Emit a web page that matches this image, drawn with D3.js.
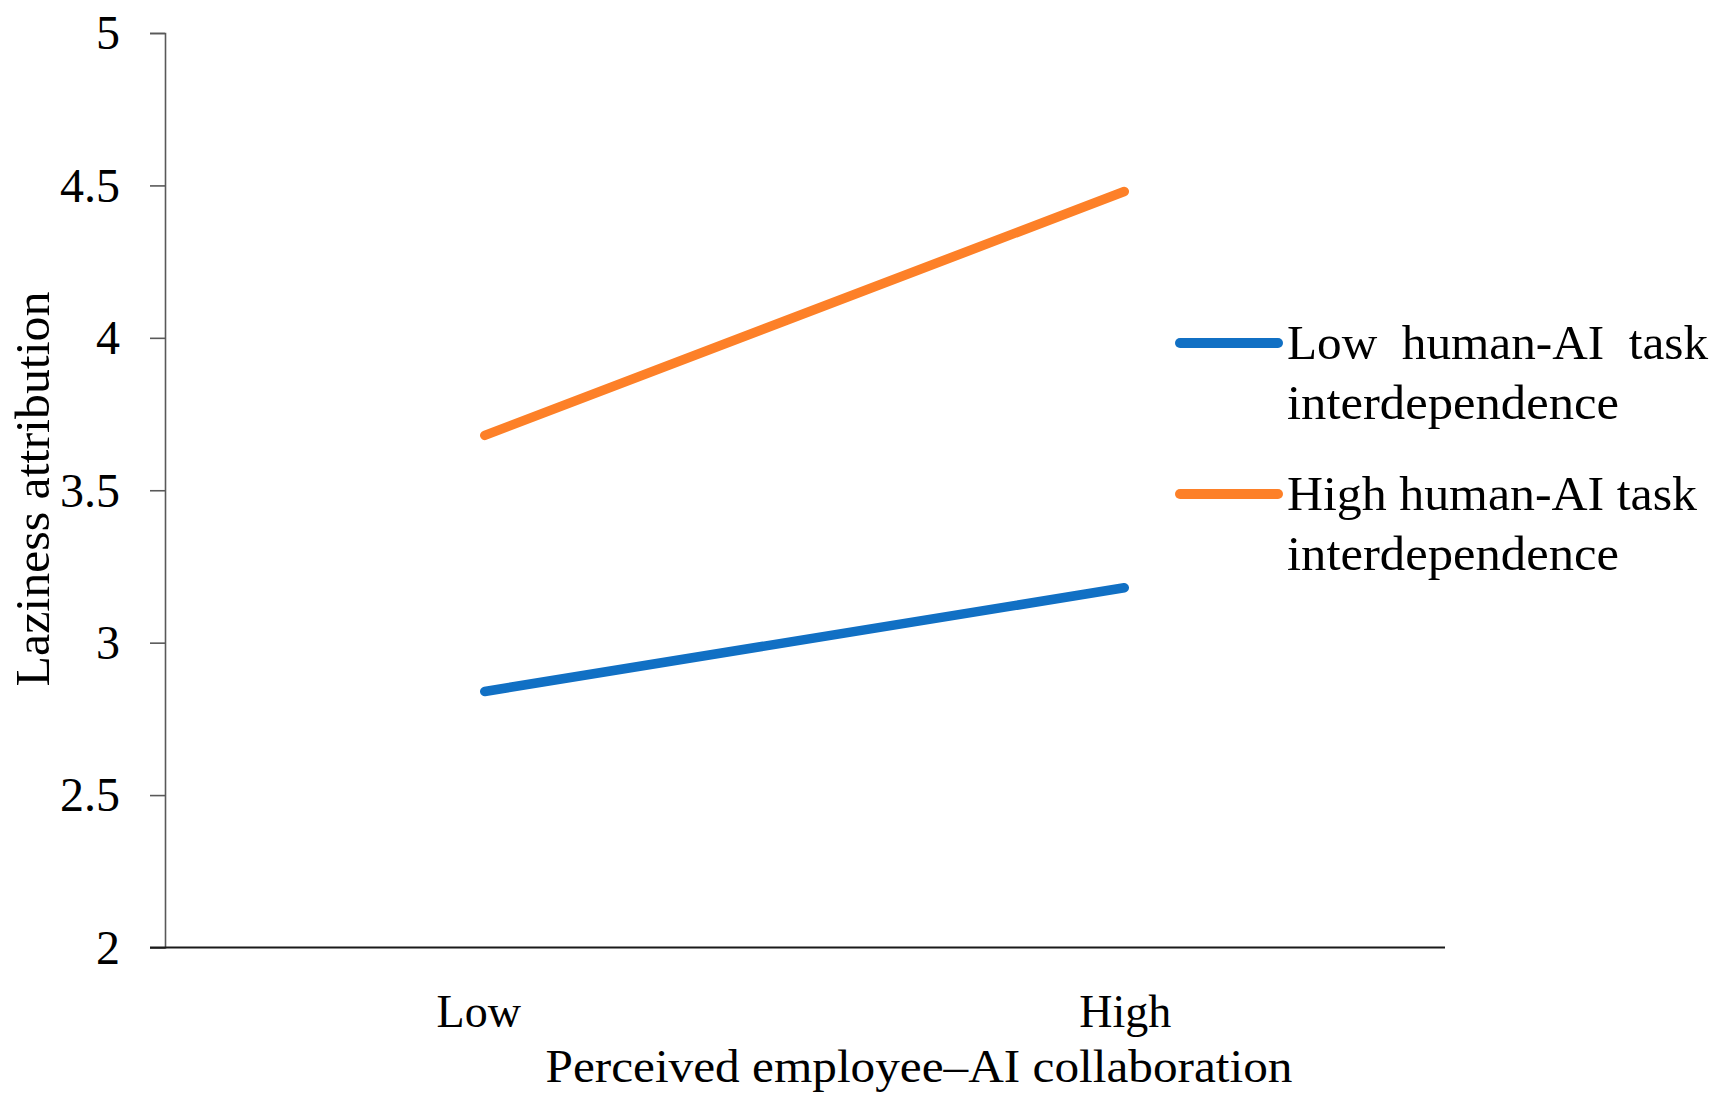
<!DOCTYPE html>
<html>
<head>
<meta charset="utf-8">
<script src="https://cdn.jsdelivr.net/npm/d3@7"></script>
<style>
  body { margin: 0; background: #ffffff; }
  text { font-family: 'Liberation Serif', 'DejaVu Serif', serif; fill: #000000; }
</style>
</head>
<body>
<div id="chart"></div>
<script>
const collaboration = ['Low', 'High']
const yTicks = [2, 2.5, 3, 3.5, 4, 4.5, 5]

const lowInterdependence = [2.84, 3.18]
const highInterdependence = [3.68, 4.48]

const seriesNames = [
  ['Low  human-AI  task', 'interdependence'],
  ['High human-AI task', 'interdependence'],
]
const seriesColors = ['#1170c4', '#fd8028']

const svgWidth = 1722
const svgHeight = 1105

const margin = { left: 165, right: 278, top: 33, bottom: 158 }

const svg = d3.select('#chart').append('svg').attr('width', svgWidth).attr('height', svgHeight)

svg.append('rect').attr('width', svgWidth).attr('height', svgHeight).attr('fill', '#ffffff')

const x = d3
  .scalePoint()
  .domain(collaboration)
  .range([margin.left, svgWidth - margin.right])
  .padding(0.5)

const y = d3
  .scaleLinear()
  .domain([2, 5])
  .range([svgHeight - margin.bottom + 0.5, margin.top])

// y axis
const yAxis = svg
  .append('g')
  .attr('transform', `translate(${margin.left}, 0)`)
  .call(d3.axisLeft(y).tickValues(yTicks).tickSize(15).tickPadding(30).tickFormat(d3.format('')))

yAxis.select('.domain').attr('stroke', '#595959').attr('stroke-width', 1.6)
yAxis.selectAll('.tick line').attr('stroke', '#595959').attr('stroke-width', 1.6)
yAxis
  .selectAll('.tick text')
  .attr('font-family', "'Liberation Serif', serif")
  .attr('font-size', 48)
  .attr('fill', '#000')
  .attr('dy', '0.33em')

// x axis line
svg
  .append('line')
  .attr('x1', margin.left - 15)
  .attr('x2', svgWidth - margin.right + 1)
  .attr('y1', y(2))
  .attr('y2', y(2))
  .attr('stroke', '#1a1a1a')
  .attr('stroke-width', 2)

svg
  .selectAll('.xlabel')
  .data(collaboration)
  .join('text')
  .attr('class', 'xlabel')
  .attr('x', (d) => x(d))
  .attr('dx', (d) => (d === 'Low' ? -6 : 1))
  .attr('y', 1027)
  .attr('text-anchor', 'middle')
  .attr('font-size', 46)
  .text((d) => d)

svg
  .append('text')
  .attr('x', 919)
  .attr('y', 1082)
  .attr('text-anchor', 'middle')
  .attr('font-size', 46)
  .attr('textLength', 747)
  .attr('lengthAdjust', 'spacingAndGlyphs')
  .text('Perceived employee\u2013AI collaboration')

svg
  .append('text')
  .attr('transform', 'translate(49, 489) rotate(-90)')
  .attr('text-anchor', 'middle')
  .attr('font-size', 48)
  .attr('textLength', 395)
  .attr('lengthAdjust', 'spacingAndGlyphs')
  .text('Laziness attribution')

// lines
const line = d3
  .line()
  .x((d, i) => x(collaboration[i]))
  .y((d) => y(d))

;[lowInterdependence, highInterdependence].forEach((values, i) => {
  svg
    .append('path')
    .attr('d', line(values))
    .attr('fill', 'none')
    .attr('stroke', seriesColors[i])
    .attr('stroke-width', 9.5)
    .attr('stroke-linecap', 'round')
})

// legend
const legendY = [343, 494]
const legendLengths = [
  [421, 332],
  [410, 332],
]
seriesNames.forEach((lines, i) => {
  const g = svg.append('g').attr('transform', `translate(0, ${legendY[i]})`)
  g.append('line')
    .attr('x1', 1180)
    .attr('x2', 1278)
    .attr('y1', 0)
    .attr('y2', 0)
    .attr('stroke', seriesColors[i])
    .attr('stroke-width', 10)
    .attr('stroke-linecap', 'round')
  lines.forEach((t, j) => {
    g.append('text')
      .attr('x', 1287)
      .attr('y', 16 + j * 60)
      .attr('font-size', 48)
      .attr('textLength', legendLengths[i][j])
      .attr('lengthAdjust', 'spacingAndGlyphs')
      .attr('xml:space', 'preserve')
      .style('white-space', 'pre')
      .text(t)
  })
})
</script>
</body>
</html>
